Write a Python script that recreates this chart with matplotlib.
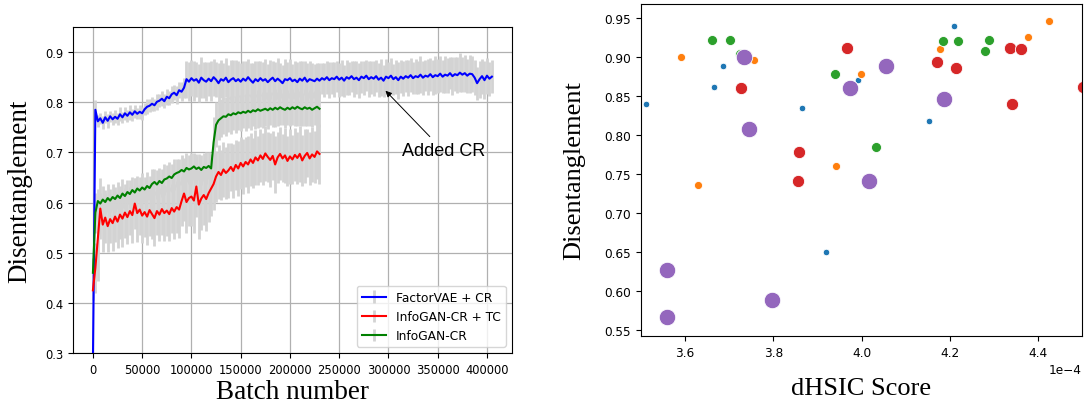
import numpy as np
import matplotlib
matplotlib.use("Agg")
import matplotlib.pyplot as plt

# training curves, logged every 2500 batches
step = 2500
vae_cr = [
    0.28, 0.785, 0.762, 0.768, 0.759, 0.770, 0.763, 0.772, 0.766, 0.771,
    0.767, 0.776, 0.770, 0.778, 0.773, 0.780, 0.775, 0.782, 0.777, 0.781,
    0.778, 0.786, 0.791, 0.793, 0.797, 0.794, 0.801, 0.803, 0.807, 0.802,
    0.811, 0.808, 0.816, 0.819, 0.814, 0.824, 0.821, 0.829, 0.846, 0.841,
    0.848, 0.843, 0.846, 0.839, 0.849, 0.844, 0.841, 0.847, 0.842, 0.850,
    0.845, 0.838, 0.846, 0.843, 0.849, 0.840, 0.845, 0.848, 0.842, 0.846,
    0.841, 0.847, 0.843, 0.850, 0.844, 0.839, 0.846, 0.842, 0.848, 0.843,
    0.846, 0.840, 0.845, 0.849, 0.842, 0.847, 0.843, 0.838, 0.846, 0.844,
    0.848, 0.842, 0.845, 0.840, 0.847, 0.843, 0.849, 0.841, 0.846, 0.844,
    0.842, 0.847, 0.843, 0.848, 0.845, 0.850, 0.844, 0.848, 0.846, 0.851,
    0.845, 0.849, 0.843, 0.850, 0.847, 0.852, 0.846, 0.849, 0.844, 0.851,
    0.848, 0.853, 0.846, 0.850, 0.847, 0.852, 0.845, 0.849, 0.843, 0.851,
    0.848, 0.853, 0.846, 0.850, 0.844, 0.851, 0.847, 0.852, 0.849, 0.854,
    0.848, 0.852, 0.850, 0.855, 0.849, 0.853, 0.851, 0.856, 0.850, 0.854,
    0.852, 0.857, 0.851, 0.855, 0.853, 0.858, 0.852, 0.856, 0.854, 0.859,
    0.855, 0.858, 0.853, 0.857, 0.856, 0.849, 0.838, 0.846, 0.852, 0.844,
    0.853, 0.847, 0.851,
]
vae_cr_err = [
    0.020, 0.020, 0.012, 0.011, 0.013, 0.012, 0.014, 0.011, 0.012, 0.013,
    0.012, 0.014, 0.011, 0.013, 0.012, 0.015, 0.012, 0.013, 0.011, 0.014,
    0.013, 0.012, 0.015, 0.013, 0.014, 0.012, 0.016, 0.013, 0.015, 0.014,
    0.016, 0.014, 0.017, 0.015, 0.018, 0.016, 0.019, 0.020, 0.037, 0.039,
    0.036, 0.040, 0.035, 0.038, 0.041, 0.036, 0.039, 0.034, 0.040, 0.037,
    0.035, 0.041, 0.038, 0.036, 0.039, 0.034, 0.040, 0.037, 0.042, 0.036,
    0.038, 0.035, 0.040, 0.037, 0.034, 0.039, 0.036, 0.041, 0.035, 0.038,
    0.040, 0.036, 0.039, 0.034, 0.038, 0.041, 0.035, 0.037, 0.040, 0.036,
    0.039, 0.035, 0.038, 0.041, 0.036, 0.040, 0.034, 0.038, 0.037, 0.035,
    0.034, 0.032, 0.035, 0.031, 0.034, 0.033, 0.036, 0.032, 0.035, 0.031,
    0.034, 0.036, 0.032, 0.035, 0.033, 0.031, 0.036, 0.033, 0.035, 0.032,
    0.034, 0.031, 0.036, 0.033, 0.035, 0.032, 0.034, 0.037, 0.032, 0.035,
    0.033, 0.036, 0.031, 0.034, 0.037, 0.033, 0.035, 0.032, 0.036, 0.034,
    0.032, 0.035, 0.033, 0.037, 0.034, 0.031, 0.036, 0.033, 0.035, 0.038,
    0.034, 0.036, 0.033, 0.037, 0.035, 0.032, 0.038, 0.034, 0.036, 0.039,
    0.035, 0.037, 0.034, 0.038, 0.036, 0.035, 0.033, 0.037, 0.035, 0.038,
    0.036, 0.034, 0.033,
]
gan_cr_tc = [
    0.425, 0.470, 0.528, 0.588, 0.556, 0.570, 0.553, 0.567, 0.559, 0.572,
    0.562, 0.576, 0.568, 0.580, 0.571, 0.583, 0.575, 0.598, 0.579, 0.586,
    0.574, 0.581, 0.572, 0.585, 0.577, 0.569, 0.583, 0.576, 0.587, 0.579,
    0.584, 0.577, 0.589, 0.582, 0.591, 0.586, 0.603, 0.618, 0.601, 0.609,
    0.612, 0.604, 0.632, 0.596, 0.608, 0.615, 0.607, 0.619, 0.628, 0.637,
    0.652, 0.661, 0.655, 0.666, 0.659, 0.664, 0.671, 0.663, 0.675, 0.668,
    0.679, 0.672, 0.681, 0.676, 0.686, 0.679, 0.690, 0.684, 0.694, 0.687,
    0.698, 0.691, 0.685, 0.693, 0.676, 0.690, 0.697, 0.688, 0.694, 0.683,
    0.692, 0.686, 0.695, 0.689, 0.697, 0.684, 0.693, 0.699, 0.688, 0.696,
    0.691, 0.702, 0.697,
]
gan_cr_tc_err = [
    0.020, 0.050, 0.085, 0.060, 0.055, 0.050, 0.052, 0.048, 0.055, 0.050,
    0.053, 0.049, 0.056, 0.050, 0.054, 0.048, 0.055, 0.051, 0.057, 0.050,
    0.054, 0.049, 0.056, 0.052, 0.050, 0.055, 0.048, 0.053, 0.051, 0.056,
    0.050, 0.054, 0.049, 0.055, 0.052, 0.057, 0.050, 0.054, 0.062, 0.056,
    0.058, 0.065, 0.060, 0.068, 0.062, 0.059, 0.064, 0.058, 0.055, 0.052,
    0.050, 0.053, 0.049, 0.055, 0.051, 0.054, 0.048, 0.053, 0.050, 0.055,
    0.051, 0.054, 0.049, 0.056, 0.052, 0.050, 0.055, 0.048, 0.053, 0.051,
    0.055, 0.050, 0.054, 0.049, 0.056, 0.051, 0.053, 0.048, 0.055, 0.050,
    0.054, 0.049, 0.053, 0.051, 0.056, 0.050, 0.054, 0.048, 0.053, 0.055,
    0.052, 0.056, 0.060,
]
gan_cr = [
    0.460, 0.580, 0.603, 0.598, 0.606, 0.601, 0.609, 0.604, 0.611, 0.607,
    0.614, 0.609, 0.618, 0.613, 0.621, 0.617, 0.625, 0.620, 0.628, 0.624,
    0.630, 0.626, 0.633, 0.629, 0.637, 0.641, 0.636, 0.643, 0.639, 0.646,
    0.648, 0.652, 0.649, 0.656, 0.659, 0.661, 0.665, 0.662, 0.669, 0.666,
    0.668, 0.672, 0.667, 0.670, 0.665, 0.671, 0.669, 0.673, 0.668, 0.720,
    0.755, 0.764, 0.768, 0.772, 0.771, 0.776, 0.774, 0.778, 0.776, 0.780,
    0.778, 0.781, 0.779, 0.783, 0.780, 0.784, 0.782, 0.786, 0.783, 0.785,
    0.787, 0.784, 0.788, 0.785, 0.789, 0.786, 0.790, 0.787, 0.785, 0.789,
    0.786, 0.790, 0.787, 0.791, 0.788, 0.786, 0.790, 0.787, 0.789, 0.785,
    0.788, 0.791, 0.787,
]
gan_cr_err = [
    0.030, 0.040, 0.025, 0.022, 0.027, 0.024, 0.028, 0.023, 0.026, 0.025,
    0.027, 0.024, 0.028, 0.025, 0.023, 0.027, 0.025, 0.029, 0.024, 0.026,
    0.028, 0.025, 0.027, 0.024, 0.029, 0.026, 0.028, 0.025, 0.027, 0.030,
    0.026, 0.029, 0.027, 0.030, 0.028, 0.026, 0.030, 0.027, 0.029, 0.028,
    0.030, 0.027, 0.029, 0.026, 0.030, 0.028, 0.031, 0.027, 0.029, 0.050,
    0.045, 0.040, 0.038, 0.036, 0.039, 0.035, 0.038, 0.034, 0.037, 0.035,
    0.036, 0.033, 0.037, 0.034, 0.036, 0.032, 0.035, 0.038, 0.033, 0.036,
    0.034, 0.037, 0.033, 0.035, 0.038, 0.034, 0.036, 0.032, 0.037, 0.035,
    0.033, 0.036, 0.034, 0.038, 0.035, 0.033, 0.037, 0.034, 0.036, 0.035,
    0.034, 0.037, 0.036,
]

# dHSIC score vs disentanglement, one list pair per group
hsic_1 = [3.512, 3.666, 3.685, 3.865, 3.919, 3.993, 4.154, 4.209]
dis_1 = [0.840, 0.862, 0.888, 0.834, 0.650, 0.870, 0.818, 0.940]
hsic_2 = [3.590, 3.629, 3.742, 3.757, 3.942, 3.999, 4.178, 4.377, 4.425]
dis_2 = [0.900, 0.736, 0.902, 0.896, 0.760, 0.878, 0.910, 0.926, 0.946]
hsic_3 = [3.660, 3.702, 3.725, 3.939, 4.033, 4.185, 4.219, 4.279, 4.290]
dis_3 = [0.922, 0.922, 0.904, 0.878, 0.784, 0.920, 0.920, 0.908, 0.922]
hsic_4 = [3.726, 3.859, 3.855, 3.968, 4.171, 4.215, 4.337, 4.362, 4.342, 4.502]
dis_4 = [0.860, 0.778, 0.741, 0.912, 0.894, 0.886, 0.912, 0.910, 0.840, 0.862]
hsic_5 = [3.733, 3.746, 3.558, 3.558, 3.798, 3.974, 4.018, 4.056, 4.186]
dis_5 = [0.900, 0.808, 0.626, 0.566, 0.588, 0.860, 0.741, 0.888, 0.846]

groups = [(hsic_1, dis_1, 22, "tab:blue"),
          (hsic_2, dis_2, 34, "tab:orange"),
          (hsic_3, dis_3, 52, "tab:green"),
          (hsic_4, dis_4, 78, "tab:red"),
          (hsic_5, dis_5, 140, "tab:purple")]

serif = "Liberation Serif"


def plot_curves(ax):
    curves = [(vae_cr, vae_cr_err, "blue", "FactorVAE + CR"),
              (gan_cr_tc, gan_cr_tc_err, "red", "InfoGAN-CR + TC"),
              (gan_cr, gan_cr_err, "green", "InfoGAN-CR")]
    for y, err, color, label in curves:
        x = np.arange(len(y)) * step
        ax.errorbar(x, y, yerr=err, color=color, ecolor="lightgray",
                    elinewidth=2.0, lw=1.5, label=label)

    ax.annotate("Added CR", xy=(297000, 0.823), xytext=(356000, 0.703),
                ha="center", va="center", fontsize=13, family="Liberation Sans",
                arrowprops=dict(arrowstyle="-|>", color="black", lw=0.7,
                                mutation_scale=9, shrinkA=3, shrinkB=0))
    ax.set_ylim(0.3, 0.95)
    ax.set_xticks(np.arange(0, 400001, 50000))
    ax.set_yticks(np.arange(0.3, 0.91, 0.1))
    ax.grid(True, color="#b0b0b0", lw=0.9)
    ax.tick_params(labelsize=8.3)
    ax.set_xlabel("Batch number", family=serif, fontsize=19.5, labelpad=2)
    ax.set_ylabel("Disentanglement", family=serif, fontsize=19.5, labelpad=9)
    ax.legend(loc="lower right", fontsize=8.8)


def plot_scatter(ax):
    for hs, dis, size, color in groups:
        ax.scatter(np.array(hs) * 1e-4, dis, s=size, color=color,
                   edgecolors="white", linewidths=0.6)
    ax.set_xlim(3.5e-4, 4.5e-4)
    ax.set_ylim(0.542, 0.968)
    ax.set_xticks(np.arange(3.6, 4.41, 0.2) * 1e-4)
    ax.set_yticks(np.arange(0.55, 0.951, 0.05))
    ax.ticklabel_format(style="sci", axis="x", scilimits=(0, 0))
    ax.tick_params(labelsize=8.7)
    ax.xaxis.get_offset_text().set_fontsize(8.7)
    ax.set_xlabel("dHSIC Score", family=serif, fontsize=19, labelpad=13)
    ax.set_ylabel("Disentanglement", family=serif, fontsize=19, labelpad=14)


fig = plt.figure(figsize=(10.89, 4.06), dpi=100)
ax1 = fig.add_axes([0.067, 0.128, 0.403, 0.803])
ax2 = fig.add_axes([0.5886, 0.170, 0.405, 0.818])
plot_curves(ax1)
plot_scatter(ax2)
fig.savefig("out.png", dpi=100)
